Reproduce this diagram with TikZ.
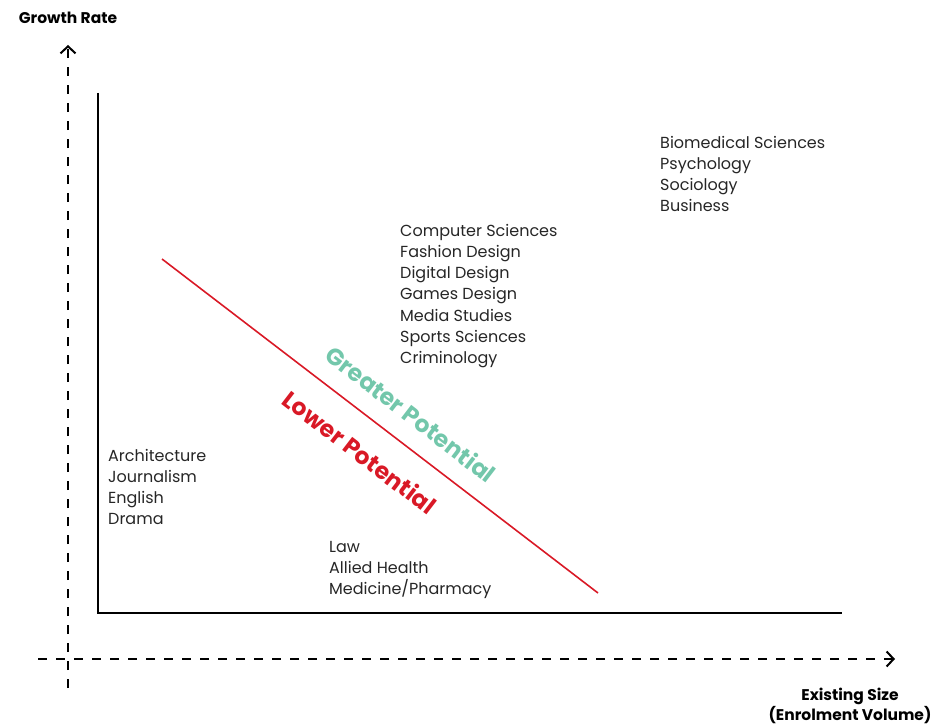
\documentclass[tikz,border=0pt]{standalone}
\usepackage{fontspec}
\setmainfont{Poppins}
\usetikzlibrary{arrows.meta}
\definecolor{potred}{rgb}{0.850000, 0.100000, 0.150000}
\definecolor{potteal}{rgb}{0.450000, 0.780000, 0.670000}
\definecolor{txtgray}{rgb}{0.150000, 0.150000, 0.150000}
\tikzset{
  dashaxis/.style={line width=2pt, dash pattern=on 9pt off 9pt, -{Straight Barb[length=7pt,width=15pt,line width=2pt]}},
  solidaxis/.style={line width=1.6pt},
  subjects/.style={anchor=north west, inner sep=0pt, align=left, font=\fontsize{16}{21.2}\selectfont, text=txtgray},
  axislabel/.style={inner sep=0pt, align=center, font=\fontsize{15.5}{20}\selectfont\bfseries},
  potential/.style={inner sep=0pt, font=\fontsize{23.5}{26}\selectfont\bfseries, rotate=-37.5}
}
\begin{document}
\begin{tikzpicture}[x=1pt,y=-1pt]
\useasboundingbox (0,0) rectangle (938,725);
% outer dashed axes
\coordinate (ybot) at (68,688);
\coordinate (ytop) at (68,45);
\coordinate (xleft) at (38,659);
\coordinate (xright) at (895,659);
\draw[dashaxis] (ybot)--(ytop);
\draw[dashaxis] (xleft)--(xright);
% inner axes
\coordinate (itop) at (98,93);
\coordinate (iorig) at (98,613);
\coordinate (iright) at (842,613);
\draw[solidaxis] (itop)--(iorig)--(iright);
% divide line
\coordinate (lstart) at (162,259);
\coordinate (lend) at (598,593);
\draw[potred, line width=1.6pt] (lstart)--(lend);
% labels
\node[axislabel] (growth) at (68,18) {Growth Rate};
\node[axislabel] (size) at (850,706) {Existing Size\\(Enrolment Volume)};
\node[potential, text=potteal] (greater) at (411,414) {Greater Potential};
\node[potential, text=potred] (lower) at (360,452) {Lower Potential};
% subject groups
\node[subjects] (big) at (660,136) {Biomedical Sciences\\Psychology\\Sociology\\Business};
\node[subjects] (mid) at (400,224) {Computer Sciences\\Fashion Design\\Digital Design\\Games Design\\Media Studies\\Sports Sciences\\Criminology};
\node[subjects] (arts) at (108,449) {Architecture\\Journalism\\English\\Drama};
\node[subjects] (prof) at (329,541) {Law\\Allied Health\\Medicine/Pharmacy};
\end{tikzpicture}
\end{document}
